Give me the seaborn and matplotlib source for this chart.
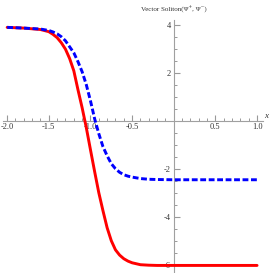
import pandas as pd
import matplotlib
matplotlib.use("Agg")
import matplotlib.pyplot as plt
import seaborn as sns
from matplotlib.ticker import FixedLocator, MultipleLocator, FormatStrFormatter

# values
x_vals = [-2.0, -1.8, -1.6, -1.5, -1.45, -1.4, -1.35, -1.3, -1.25, -1.2, -1.15, -1.1, -1.05, -1.0,
          -0.95, -0.9, -0.85, -0.8, -0.75, -0.7, -0.65, -0.6, -0.55, -0.5, -0.4, -0.3, -0.2, 0.0, 0.5, 1.0]
psi_plus = [3.89, 3.86, 3.8, 3.71, 3.6, 3.46, 3.25, 2.98, 2.59, 2.08, 1.29, 0.54, -0.29, -1.21,
            -2.12, -3.0, -3.75, -4.46, -5.0, -5.38, -5.6, -5.75, -5.85, -5.92, -6.0, -6.02, -6.03,
            -6.03, -6.03, -6.03]
psi_minus = [3.89, 3.86, 3.82, 3.76, 3.7, 3.62, 3.5, 3.33, 3.08, 2.83, 2.46, 2.04, 1.5, 0.83,
             0.08, -0.54, -1.08, -1.46, -1.79, -2.0, -2.15, -2.25, -2.31, -2.35, -2.41, -2.44, -2.45,
             -2.46, -2.46, -2.46]
x_ticks = [-2.0, -1.5, -1.0, -0.5, 0.5, 1.0]
y_ticks = [-6, -4, -2, 2, 4]

sns.set_style("white")
plt.rcParams['font.family'] = ['Liberation Serif', 'DejaVu Serif']
plt.rcParams['axes.unicode_minus'] = False

df = pd.DataFrame({'x': x_vals, 'plus': psi_plus, 'minus': psi_minus})

fig = plt.figure(figsize=(2.73, 2.73), dpi=100)
ax = fig.add_axes([0.011, 0.004, 0.952, 0.923])

sns.lineplot(data=df, x='x', y='plus', ax=ax, color='#ff0000', lw=2.1, zorder=3)
sns.lineplot(data=df, x='x', y='minus', ax=ax, color='#0000ff', lw=2.1,
             dashes=False, zorder=3).lines[-1].set_dashes((2.0, 0.9))

ax.set_xlim(-2.05, 1.07)
ax.set_ylim(-6.3, 4.2)

# Mathematica-like axes through the origin
for s in ['top', 'right']:
    ax.spines[s].set_visible(False)
ax.spines['bottom'].set_position(('data', 0))
ax.spines['left'].set_position(('data', 0))
for s in ['bottom', 'left']:
    ax.spines[s].set_color('#a0a0a0')
    ax.spines[s].set_linewidth(0.8)

ax.xaxis.set_major_locator(FixedLocator(x_ticks))
ax.xaxis.set_minor_locator(MultipleLocator(0.1))
ax.yaxis.set_major_locator(FixedLocator(y_ticks))
ax.yaxis.set_minor_locator(MultipleLocator(0.5))
ax.xaxis.set_major_formatter(FormatStrFormatter('%.1f'))
ax.yaxis.set_major_formatter(FormatStrFormatter('%d'))
ax.tick_params(which='major', direction='in', length=4, width=0.8, color='#999999',
               labelsize=6, labelcolor='#333333', pad=2)
ax.tick_params(which='minor', direction='in', length=2.2, width=0.7, color='#999999')
ax.tick_params(axis='x', which='both', bottom=True)
ax.tick_params(axis='y', which='both', left=True)

ax.set_xlabel('')
ax.set_ylabel('')
ax.text(1.085, 0.05, 'x', fontsize=6.5, style='italic', color='#333333',
        ha='left', va='bottom', transform=ax.transData, clip_on=False)
fig.text(174 / 273, 1 - 8 / 273, 'Vector Soliton(\u03a8\u207a, \u03a8\u207b)', fontsize=5,
         color='#333333', ha='center', va='center')

plt.savefig('out.png', dpi=100)
